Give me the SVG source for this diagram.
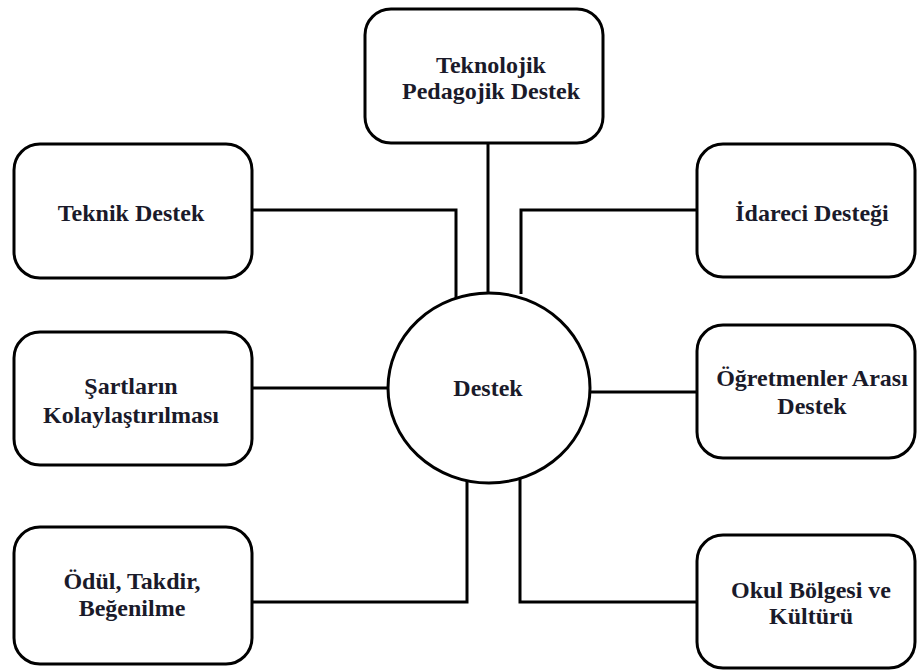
<svg xmlns="http://www.w3.org/2000/svg" width="920" height="671" viewBox="0 0 920 671">
<style>
.box{fill:#fff;stroke:#000;stroke-width:3}
.con{fill:none;stroke:#000;stroke-width:3}
text{font-family:'Liberation Serif',Tinos,'Times New Roman','DejaVu Serif',serif;font-weight:bold;font-size:24px;fill:#1a1a2a;text-anchor:middle}
</style>
<rect width="920" height="671" fill="#fff"/>
<g id="connectors">
<path class="con" d="M488,143 V293"/>
<path class="con" d="M252,210 H456 V298"/>
<path class="con" d="M696,210 H521 V294"/>
<path class="con" d="M252,388 H388"/>
<path class="con" d="M590,392 H696"/>
<path class="con" d="M252,602 H467 V481"/>
<path class="con" d="M520,478 V602 H697"/>
</g>
<g id="n-center">
<ellipse class="box" cx="489" cy="388" rx="101" ry="95"/>
<text x="488" y="396">Destek</text>
</g>
<g id="n-tpd">
<rect class="box" x="365" y="9" width="238" height="134" rx="26"/>
<text x="491" y="73">Teknolojik</text>
<text x="491" y="99">Pedagojik Destek</text>
</g>
<g id="n-teknik">
<rect class="box" x="14" y="144" width="238" height="134" rx="26"/>
<text x="131" y="221">Teknik Destek</text>
</g>
<g id="n-idareci">
<rect class="box" x="697" y="144" width="218" height="133" rx="26"/>
<text x="812" y="221">İdareci Desteği</text>
</g>
<g id="n-sartlar">
<rect class="box" x="14" y="332" width="238" height="133" rx="26"/>
<text x="131" y="394">Şartların</text>
<text x="131" y="423">Kolaylaştırılması</text>
</g>
<g id="n-ogretmen">
<rect class="box" x="697" y="325" width="218" height="133" rx="26"/>
<text x="812" y="386">Öğretmenler Arası</text>
<text x="812" y="414">Destek</text>
</g>
<g id="n-odul">
<rect class="box" x="14" y="527" width="238" height="137" rx="26"/>
<text x="132" y="589">Ödül, Takdir,</text>
<text x="132" y="616">Beğenilme</text>
</g>
<g id="n-okul">
<rect class="box" x="697" y="535" width="218" height="133" rx="26"/>
<text x="811" y="598">Okul Bölgesi ve</text>
<text x="811" y="624">Kültürü</text>
</g>
</svg>
